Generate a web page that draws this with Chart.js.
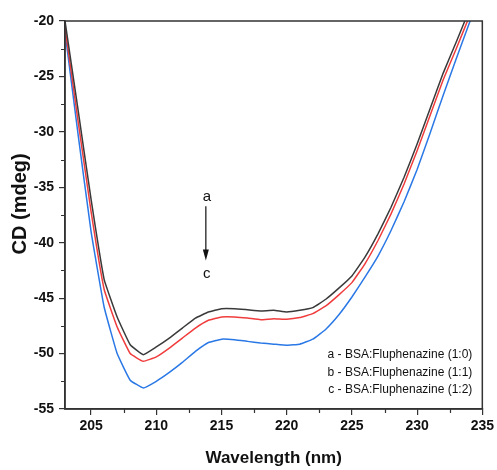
<!DOCTYPE html>
<html>
<head>
<meta charset="utf-8">
<script src="https://cdn.jsdelivr.net/npm/chart.js@4.4.1/dist/chart.umd.min.js"></script>
<style>
  html, body { margin: 0; padding: 0; background: #ffffff; }
  #wrap { width: 497px; height: 470px; }
</style>
</head>
<body>
<div id="wrap"><canvas id="c" width="497" height="470"></canvas></div>
<script>
// ---- data ----
const wavelengths = [203,204,205,206,207,208,209,210,211,212,213,214,215,216,217,218,219,220,221,222,223,224,225,226,227,228,229,230,231,232,233,234,235];
const seriesA = [-20.0,-28.0,-36.1,-43.3,-46.7,-49.2,-50.1,-49.4,-48.6,-47.7,-46.8,-46.25,-45.95,-45.95,-46.05,-46.15,-46.1,-46.25,-46.1,-45.85,-45.1,-44.1,-43.0,-41.3,-39.2,-36.8,-34.1,-31.1,-27.9,-24.7,-21.9,-19.0,-16.0];
const seriesB = [-20.6,-29.0,-37.2,-44.2,-47.6,-50.0,-50.7,-50.3,-49.5,-48.6,-47.7,-47.0,-46.7,-46.7,-46.8,-46.95,-46.85,-46.9,-46.75,-46.4,-45.7,-44.7,-43.6,-41.9,-39.8,-37.4,-34.7,-31.7,-28.5,-25.3,-22.5,-19.6,-16.6];
const seriesC = [-21.0,-30.2,-39.0,-45.8,-50.0,-52.4,-53.1,-52.5,-51.7,-50.8,-49.8,-49.0,-48.7,-48.75,-48.9,-49.05,-49.15,-49.25,-49.15,-48.7,-47.8,-46.5,-44.9,-43.1,-41.2,-38.9,-36.3,-33.4,-30.1,-26.7,-23.4,-20.2,-17.2];
const seriesLabels = ['a - BSA:Fluphenazine (1:0)','b - BSA:Fluphenazine (1:1)','c - BSA:Fluphenazine (1:2)'];
const xMajorTicks = [205,210,215,220,225,230,235];
const xMinorTicks = [207.5,212.5,217.5,222.5,227.5,232.5];
const yMajorTicks = [-55,-50,-45,-40,-35,-30,-25,-20];
const yMinorTicks = [-52.5,-47.5,-42.5,-37.5,-32.5,-27.5,-22.5];
const xTitle = 'Wavelength (nm)';
const yTitle = '    CD (mdeg)';
// arrow annotation (data coords)
const arrowText = { from: 'a', to: 'c' };
const arrowAt = { x: 213.8, yTop: -36.7, yBottom: -41.6, yLabelA: -35.9, yLabelC: -42.8 };

const colors = ['#3a3a3a', '#f03c3c', '#2a78e6'];
const FONT = "'Liberation Sans', Arial, Helvetica, sans-serif";

const toPts = arr => wavelengths.map((w, i) => ({ x: w, y: arr[i] }));

const decor = {
  id: 'decor',
  afterDraw(chart) {
    const { ctx, chartArea: a, scales: { x, y } } = chart;
    ctx.save();
    // frame
    ctx.strokeStyle = '#333';
    ctx.lineWidth = 1.5;
    ctx.strokeRect(a.left, a.top, a.right - a.left, a.bottom - a.top);
    // minor ticks
    ctx.lineWidth = 1.2;
    ctx.beginPath();
    xMinorTicks.forEach(v => {
      const px = Math.round(x.getPixelForValue(v)) + 0.5;
      ctx.moveTo(px, a.bottom); ctx.lineTo(px, a.bottom + 4);
    });
    yMinorTicks.forEach(v => {
      const py = Math.round(y.getPixelForValue(v)) + 0.5;
      ctx.moveTo(a.left, py); ctx.lineTo(a.left - 4, py);
    });
    ctx.stroke();
    // arrow
    const ax = x.getPixelForValue(arrowAt.x);
    const y1 = y.getPixelForValue(arrowAt.yTop);
    const y2 = y.getPixelForValue(arrowAt.yBottom);
    ctx.strokeStyle = '#111'; ctx.fillStyle = '#111';
    ctx.lineWidth = 1.2;
    ctx.beginPath(); ctx.moveTo(ax, y1); ctx.lineTo(ax, y2 - 9); ctx.stroke();
    ctx.beginPath(); ctx.moveTo(ax - 3, y2 - 11); ctx.lineTo(ax + 3, y2 - 11); ctx.lineTo(ax, y2); ctx.closePath(); ctx.fill();
    ctx.font = "15px " + FONT;
    ctx.textAlign = 'center'; ctx.textBaseline = 'middle';
    ctx.fillText(arrowText.from, ax + 1, y.getPixelForValue(arrowAt.yLabelA));
    ctx.fillText(arrowText.to, ax + 1, y.getPixelForValue(arrowAt.yLabelC));
    // legend text
    ctx.font = "12px " + FONT;
    ctx.textAlign = 'right';
    ctx.fillStyle = '#111';
    seriesLabels.forEach((t, i) => {
      ctx.fillText(t, a.right - 10, a.bottom - 54 + i * 17.3);
    });
    ctx.restore();
  }
};

new Chart(document.getElementById('c'), {
  type: 'line',
  data: {
    datasets: [seriesA, seriesB, seriesC].map((s, i) => ({
      label: seriesLabels[i],
      data: toPts(s),
      borderColor: colors[i],
      borderWidth: 1.5,
      pointRadius: 0,
      tension: 0.1,
      fill: false
    }))
  },
  options: {
    responsive: false,
    animation: false,
    events: [],
    layout: { padding: { left: 0, top: 21, right: 14, bottom: 0 } },
    plugins: { legend: { display: false }, tooltip: { enabled: false } },
    scales: {
      x: {
        type: 'linear', min: 203, max: 235,
        afterBuildTicks: s => { s.ticks = xMajorTicks.map(v => ({ value: v })); },
        afterFit: s => { s.height = 61; },
        grid: { drawOnChartArea: false, drawTicks: true, tickLength: 6, color: '#333', lineWidth: 1.2 },
        border: { display: true, color: '#333', width: 1.5 },
        ticks: { color: '#111', font: { family: FONT, size: 14, weight: 'bold' }, padding: 3, maxRotation: 0 },
        title: { display: true, text: xTitle, color: '#111', font: { family: FONT, size: 17, weight: 'bold' }, padding: { top: 0, bottom: 1 } }
      },
      y: {
        type: 'linear', min: -55, max: -20,
        afterBuildTicks: s => { s.ticks = yMajorTicks.map(v => ({ value: v })); },
        afterFit: s => { s.width = 65; },
        grid: { drawOnChartArea: false, drawTicks: true, tickLength: 6, color: '#333', lineWidth: 1.2 },
        border: { display: true, color: '#333', width: 1.5 },
        ticks: { color: '#111', font: { family: FONT, size: 14, weight: 'bold' }, padding: 5 },
        title: { display: true, text: yTitle, color: '#111', font: { family: FONT, size: 20, weight: 'bold' }, padding: { top: 8, bottom: 0 } }
      }
    }
  },
  plugins: [decor]
});
</script>
</body>
</html>
